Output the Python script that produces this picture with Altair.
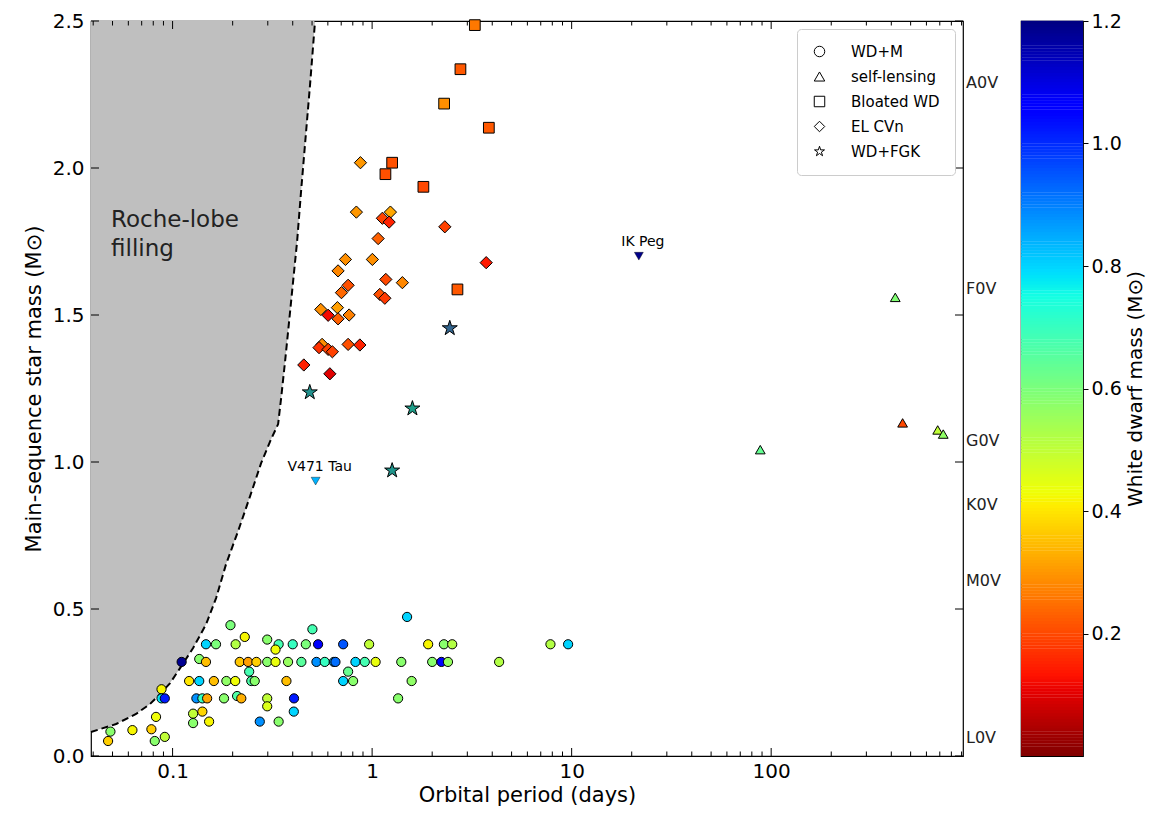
import altair as alt
import pandas as pd

W, H = 872, 735
FONT = "DejaVu Sans"

# ---------------- data ----------------
wdm_p = [0.195, 0.230, 0.147, 0.165, 0.207, 0.298, 0.340, 0.328, 0.400, 0.111,
         0.136, 0.147, 0.217, 0.239, 0.263, 0.298, 0.328, 0.379, 0.242, 0.121,
         0.136, 0.161, 0.186, 0.206, 0.248, 0.258, 0.372, 0.088, 0.088, 0.0914,
         0.1316, 0.141, 0.149, 0.181, 0.2105, 0.221, 0.298, 0.406, 0.298, 0.141,
         0.1267, 0.405, 0.0826, 0.1267, 0.1524, 0.2735, 0.340, 0.0488, 0.0629, 0.0783,
         0.0475, 0.0814, 0.0914, 1.497, 0.502, 0.4654, 0.536, 0.716, 0.966, 1.909,
         2.29, 2.52, 0.442, 0.526, 0.579, 0.643, 0.655, 0.825, 0.919, 1.041,
         1.40, 2.0, 2.225, 2.40, 0.758, 0.716, 0.803, 1.578, 1.35, 4.33,
         7.83, 9.6]
wdm_m = [0.445, 0.405, 0.38, 0.38, 0.38, 0.396, 0.38, 0.362, 0.38, 0.32,
         0.33, 0.32, 0.32, 0.32, 0.32, 0.32, 0.32, 0.32, 0.287, 0.255,
         0.255, 0.255, 0.255, 0.255, 0.255, 0.255, 0.255, 0.227, 0.196, 0.196,
         0.196, 0.196, 0.196, 0.196, 0.204, 0.196, 0.196, 0.196, 0.169, 0.151,
         0.144, 0.151, 0.133, 0.112, 0.117, 0.117, 0.117, 0.083, 0.088, 0.091,
         0.051, 0.051, 0.065, 0.473, 0.431, 0.38, 0.38, 0.38, 0.38, 0.38,
         0.38, 0.38, 0.32, 0.32, 0.32, 0.32, 0.32, 0.32, 0.32, 0.32,
         0.32, 0.32, 0.32, 0.32, 0.287, 0.255, 0.255, 0.255, 0.196, 0.32,
         0.38, 0.38]
wdm_w = [0.60, 0.42, 0.80, 0.60, 0.52, 0.58, 0.68, 0.43, 0.70, 1.18,
         0.58, 0.35, 0.36, 0.31, 0.37, 0.58, 0.44, 0.56, 0.68, 0.40,
         0.80, 0.35, 0.57, 0.43, 0.67, 0.58, 0.35, 0.42, 0.78, 1.02,
         0.88, 0.70, 0.32, 0.58, 0.66, 0.33, 0.50, 1.02, 0.46, 0.38,
         0.50, 0.80, 0.43, 0.58, 0.42, 0.88, 0.58, 0.58, 0.42, 0.37,
         0.37, 0.58, 0.50, 0.80, 0.68, 0.60, 1.07, 0.95, 0.50, 0.42,
         0.58, 0.52, 0.65, 0.88, 0.70, 0.86, 0.92, 0.80, 0.68, 0.44,
         0.58, 0.58, 1.05, 0.56, 0.63, 0.80, 0.58, 0.57, 0.58, 0.52,
         0.52, 0.80]

sl_p = [88.18, 418.7, 455.8, 683.3, 728.4]
sl_m = [1.042, 1.56, 1.133, 1.109, 1.095]
sl_w = [0.634, 0.59, 0.20, 0.50, 0.57]

bw_p = [3.272, 2.771, 2.296, 3.846, 1.26, 1.166, 1.807, 2.677]
bw_m = [2.486, 2.336, 2.219, 2.137, 2.018, 1.979, 1.936, 1.587]
bw_w = [0.26, 0.22, 0.29, 0.22, 0.21, 0.21, 0.20, 0.22]

el_p = [0.874, 0.834, 1.126, 1.235, 1.217, 2.314, 1.072, 0.735, 1.003, 0.675,
        1.171, 1.418, 0.758, 0.702, 1.093, 1.158, 0.553, 0.602, 0.670, 0.675,
        0.767, 0.5615, 0.542, 0.602, 0.632, 0.758, 0.868, 0.4546, 0.614, 3.73]
el_m = [2.018, 1.850, 1.829, 1.850, 1.816, 1.800, 1.760, 1.689, 1.689, 1.650,
        1.621, 1.610, 1.601, 1.576, 1.570, 1.557, 1.519, 1.499, 1.525, 1.487,
        1.500, 1.400, 1.389, 1.383, 1.375, 1.400, 1.398, 1.330, 1.300, 1.678]
el_w = [0.30, 0.30, 0.19, 0.32, 0.15, 0.19, 0.23, 0.29, 0.29, 0.28,
        0.20, 0.28, 0.21, 0.24, 0.21, 0.18, 0.29, 0.12, 0.31, 0.23,
        0.27, 0.29, 0.17, 0.19, 0.19, 0.21, 0.15, 0.15, 0.10, 0.14]

fgk_p = [2.45, 0.487, 1.592, 1.26]
fgk_m = [1.455, 1.237, 1.182, 0.971]
fgk_c = [0.32, 0.50, 0.56, 0.52]

named = ["IK Peg", "V471 Tau"]
named_p = [21.72, 0.521]
named_m = [1.70, 0.935]
named_w = [1.19, 0.84]

roche_p = [0.0390, 0.0521, 0.0656, 0.0771, 0.0865, 0.0972, 0.109, 0.1267, 0.1474, 0.1652,
           0.1854, 0.2130, 0.2446, 0.2777, 0.3118, 0.338, 0.350, 0.3664, 0.3795, 0.402,
           0.421, 0.4406, 0.4616, 0.4889, 0.5176]
roche_m = [0.0816, 0.1088, 0.143, 0.177, 0.211, 0.248, 0.299, 0.367, 0.449, 0.537,
           0.653, 0.765, 0.884, 0.996, 1.078, 1.129, 1.218, 1.344, 1.446, 1.616,
           1.752, 1.922, 2.085, 2.286, 2.50]

sp_labels = ["A0V", "F0V", "G0V", "K0V", "M0V", "L0V"]
sp_mass = [2.29, 1.59, 1.07, 0.855, 0.595, 0.06]

STAR = ("M0,-1L0.2245,-0.309L0.9511,-0.309L0.3633,0.118L0.5878,0.809L0,0.382"
        "L-0.5878,0.809L-0.3633,0.118L-0.9511,-0.309L-0.2245,-0.309Z")
types = ["WD+M", "self-lensing", "Bloated WD", "EL CVn", "WD+FGK"]
shapes = ["circle", "triangle-up", "square", "diamond", STAR]

x_major = [0.1, 1.0, 10.0, 100.0]
x_minor = [0.04, 0.05, 0.06, 0.07, 0.08, 0.09,
           0.2, 0.3, 0.4, 0.5, 0.6, 0.7, 0.8, 0.9,
           2.0, 3.0, 4.0, 5.0, 6.0, 7.0, 8.0, 9.0,
           20.0, 30.0, 40.0, 50.0, 60.0, 70.0, 80.0, 90.0,
           200.0, 300.0, 400.0, 500.0, 600.0, 700.0, 800.0, 900.0]
y_major = [0.0, 0.5, 1.0, 1.5, 2.0, 2.5]
cbar_ticks = [0.2, 0.4, 0.6, 0.8, 1.0, 1.2]

jet_t = [0, 0.11, 0.125, 0.34, 0.35, 0.375, 0.64, 0.65, 0.66, 0.89, 0.91, 1.0]
jet_c = ["#000080", "#0000ff", "#0000ff", "#00dbff", "#00e6f7", "#15ffe2",
         "#eeff08", "#f7f600", "#ffec00", "#ff1300", "#e80000", "#800000"]
VMAX = 1.2
c_dom = [round(VMAX * (1 - t), 5) for t in reversed(jet_t)]
c_rng = list(reversed(jet_c))

def frame(p, m, w, t):
    return pd.DataFrame({"P": p, "M": m, "wd": w, "type": [t] * len(p)})

df_wdm = frame(wdm_p, wdm_m, wdm_w, "WD+M")
df_sl = frame(sl_p, sl_m, sl_w, "self-lensing")
df_bw = frame(bw_p, bw_m, bw_w, "Bloated WD")
df_el = frame(el_p, el_m, el_w, "EL CVn")
df_fgk = pd.DataFrame({"P": fgk_p, "M": fgk_m, "c": fgk_c})
df_named = pd.DataFrame({"P": named_p, "M": named_m, "wd": named_w, "name": named})
df_roche = pd.DataFrame({"P": roche_p, "M": roche_m})
df_sp = pd.DataFrame({"M": sp_mass, "label": sp_labels})

xs = alt.Scale(type="log", domain=[0.039, 915])
ys = alt.Scale(domain=[0, 2.5])
X = alt.X("P:Q", scale=xs, axis=alt.Axis(
    title="Orbital period (days)", values=x_major, format="~g", ticks=False,
    domain=False, grid=False, labelFontSize=20, titleFontSize=21,
    labelPadding=5, titlePadding=3))
Y = alt.Y("M:Q", scale=ys, axis=alt.Axis(
    title="Main-sequence star mass (M\u2299)", values=y_major, format=".1f",
    ticks=False, domain=False, grid=False, labelFontSize=20, titleFontSize=21,
    labelPadding=7, titlePadding=8))

cscale = alt.Scale(domain=c_dom, range=c_rng, interpolate="rgb")
shape_scale = alt.Scale(domain=types, range=shapes)
leg = alt.Legend(title=None, orient="top-right", offset=8,
                 fillColor="white", strokeColor="#cccccc", cornerRadius=4,
                 padding=15, labelFontSize=15, labelColor="black",
                 symbolSize=110, symbolFillColor="white", symbolStrokeColor="black",
                 symbolStrokeWidth=1, rowPadding=9, labelOffset=24)

def pts(df, size):
    return alt.Chart(df).mark_point(filled=True, size=size, stroke="black",
                                    strokeWidth=1, opacity=1).encode(
        x=X, y=Y,
        fill=alt.Fill("wd:Q", scale=cscale, legend=None),
        shape=alt.Shape("type:N", scale=shape_scale, legend=leg))

roche_area = alt.Chart(df_roche).mark_area(color="#bfbfbf").encode(
    x=X, y=Y, y2=alt.datum(2.5))
roche_line = alt.Chart(df_roche).mark_line(color="black", strokeWidth=2,
                                           strokeDash=[7, 4]).encode(x=X, y=Y)

stars = alt.Chart(df_fgk).mark_point(filled=True, size=250, shape=STAR, stroke="black",
                                     strokeWidth=1, opacity=1).encode(
    x=X, y=Y,
    color=alt.Color("c:Q", scale=alt.Scale(scheme="viridis", domain=[0, 1]), legend=None))

named_pts = alt.Chart(df_named).mark_point(filled=True, size=80, shape="triangle-down",
                                           stroke="black", strokeWidth=0.4, opacity=1).encode(
    x=X, y=Y, fill=alt.Fill("wd:Q", scale=cscale, legend=None))
named_txt = alt.Chart(df_named).mark_text(fontSize=14, dy=-14, dx=4,
                                          color="black").encode(x=X, y=Y, text="name:N")

one = pd.DataFrame({"a": [0]})
roche_txt1 = alt.Chart(one).mark_text(text="Roche-lobe", fontSize=23, align="left",
                                      baseline="alphabetic", color="#222222").encode(
    x=alt.value(20), y=alt.value(206))
roche_txt2 = alt.Chart(one).mark_text(text="filling", fontSize=23, align="left",
                                      baseline="alphabetic", color="#222222").encode(
    x=alt.value(20), y=alt.value(235))

sp_txt = alt.Chart(df_sp).mark_text(fontSize=16, align="left", baseline="middle",
                                    color="#222222").encode(
    x=alt.value(W + 3), y=Y, text="label:N")

dxM = pd.DataFrame({"P": x_major})
dxm = pd.DataFrame({"P": x_minor})
dyM = pd.DataFrame({"M": y_major})
ticks = [
    alt.Chart(dxM).mark_rule(color="black").encode(x=X, y=alt.value(H), y2=alt.value(H - 8)),
    alt.Chart(dxm).mark_rule(color="black").encode(x=X, y=alt.value(H), y2=alt.value(H - 4.5)),
    alt.Chart(dxM).mark_rule(color="black").encode(x=X, y=alt.value(0), y2=alt.value(8)),
    alt.Chart(dxm).mark_rule(color="black").encode(x=X, y=alt.value(0), y2=alt.value(4.5)),
    alt.Chart(dyM).mark_rule(color="black").encode(y=Y, x=alt.value(0), x2=alt.value(8)),
    alt.Chart(dyM).mark_rule(color="black").encode(y=Y, x=alt.value(W), x2=alt.value(W - 8)),
]

main = alt.layer(
    roche_area, roche_line,
    pts(df_wdm, 85), pts(df_el, 150), pts(df_bw, 115), pts(df_sl, 95), stars,
    named_pts, named_txt, roche_txt1, roche_txt2, sp_txt, *ticks
).properties(width=W, height=H)

# colour bar
cb_v0 = [i * 0.005 for i in range(240)]
df_cb = pd.DataFrame({"v0": cb_v0, "v1": [v + 0.0056 for v in cb_v0],
                      "v": [v + 0.0025 for v in cb_v0]})
cbar = alt.Chart(df_cb).mark_rect().encode(
    y=alt.Y("v0:Q", scale=alt.Scale(domain=[0, VMAX]),
            axis=alt.Axis(orient="right", values=cbar_ticks, format=".1f",
                          title="White dwarf mass (M\u2299)", titleAngle=270,
                          titleBaseline="top", titleFontSize=20, labelFontSize=19,
                          tickSize=5, tickColor="black", domain=False, grid=False,
                          titlePadding=4, labelPadding=3)),
    y2="v1:Q",
    x=alt.value(0), x2=alt.value(62),
    fill=alt.Fill("v:Q", scale=cscale, legend=None),
).properties(width=62, height=H)

chart = alt.hconcat(main, cbar, spacing=18).resolve_scale(
    shape="independent"
).properties(
    padding={"left": 14, "top": 2, "right": 0, "bottom": 0}
).configure(font=FONT).configure_view(stroke="black", strokeWidth=1.2).configure_axis(
    labelColor="black", titleColor="black", titleFontWeight="normal")

chart.save("out.html", embed_options={"renderer": "svg", "actions": False})
